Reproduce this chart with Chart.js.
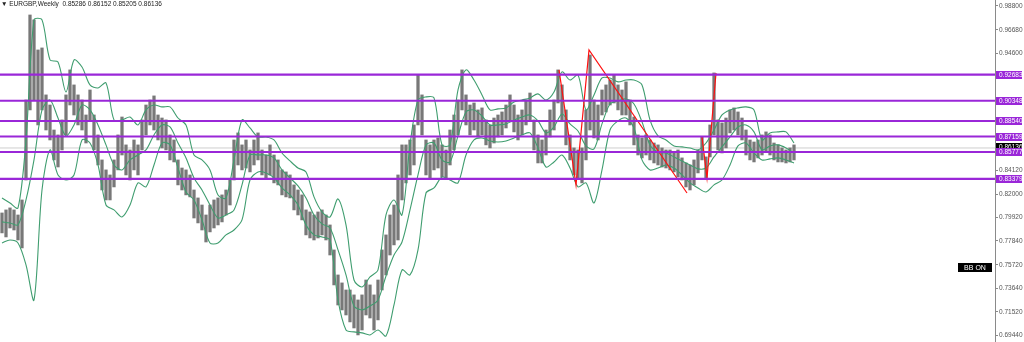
<!DOCTYPE html>
<html>
<head>
<meta charset="utf-8">
<title>EURGBP Weekly</title>
<script src="https://cdn.jsdelivr.net/npm/chart.js@4.4.0/dist/chart.umd.min.js"></script>
<style>
  html, body { margin: 0; padding: 0; background: #fff; }
</style>
</head>
<body>
<canvas id="chart" width="1024" height="342"></canvas>
<script>
// header values
var symbol = 'EURGBP';
var period = 'Weekly';
var lastOHLC = [0.85286, 0.86152, 0.85205, 0.86136];

// weekly candles (one entry per 2 weeks)
var candleHigh = [
  0.8034,0.8061,0.8079,0.8061,0.8016,0.8150,0.9042,0.9800,0.9756,0.9488,
  0.9506,0.9087,0.8997,0.8774,0.8730,0.8864,0.9087,0.9310,0.9176,0.9087,
  0.9042,0.8908,0.9131,0.8908,0.8730,0.8507,0.8418,0.8373,0.8507,0.8730,
  0.8890,0.8641,0.8596,0.8685,0.8641,0.8864,0.8997,0.9042,0.9078,0.8908,
  0.8881,0.8864,0.8730,0.8685,0.8507,0.8435,0.8418,0.8373,0.8239,0.8168,
  0.8105,0.8016,0.8105,0.8150,0.8168,0.8195,0.8239,0.8328,0.8685,0.8748,
  0.8641,0.8685,0.8596,0.8685,0.8748,0.8596,0.8551,0.8641,0.8551,0.8507,
  0.8418,0.8400,0.8373,0.8284,0.8239,0.8195,0.8061,0.8043,0.8016,0.8043,
  0.8061,0.8016,0.7927,0.7704,0.7481,0.7410,0.7347,0.7347,0.7303,0.7258,
  0.7303,0.7436,0.7392,0.7303,0.7436,0.7704,0.7838,0.8016,0.8105,0.8373,
  0.8641,0.8641,0.8685,0.8819,0.9265,0.9087,0.8685,0.8641,0.8685,0.8703,
  0.8641,0.8596,0.8774,0.8908,0.9042,0.9310,0.9087,0.8997,0.9015,0.8953,
  0.8971,0.8864,0.8819,0.8881,0.8908,0.8935,0.8997,0.9087,0.8997,0.8908,
  0.8953,0.9042,0.9104,0.8864,0.8730,0.8685,0.8774,0.8953,0.9042,0.9310,
  0.9176,0.8953,0.8730,0.8614,0.8596,0.8614,0.8953,0.9443,0.9042,0.8997,
  0.9131,0.9176,0.9220,0.9265,0.9176,0.9131,0.9203,0.9042,0.8890,0.8730,
  0.8703,0.8730,0.8685,0.8658,0.8641,0.8614,0.8596,0.8596,0.8578,0.8596,
  0.8525,0.8480,0.8462,0.8507,0.8596,0.8712,0.8534,0.8819,0.9283,0.8864,
  0.8837,0.8881,0.8953,0.8971,0.8935,0.8881,0.8774,0.8685,0.8667,0.8685,
  0.8730,0.8757,0.8730,0.8658,0.8641,0.8614,0.8596,0.8614,0.8641
];
var candleLow = [
  0.7856,0.7820,0.7900,0.7882,0.7793,0.7722,0.8328,0.8953,0.9042,0.8819,
  0.8953,0.8774,0.8685,0.8507,0.8444,0.8596,0.8730,0.8997,0.8908,0.8819,
  0.8774,0.8658,0.8864,0.8596,0.8462,0.8239,0.8150,0.8150,0.8266,0.8418,
  0.8551,0.8373,0.8328,0.8418,0.8373,0.8596,0.8730,0.8819,0.8774,0.8685,
  0.8614,0.8596,0.8507,0.8489,0.8284,0.8239,0.8195,0.8177,0.7989,0.7945,
  0.7882,0.7775,0.7865,0.7900,0.7927,0.7954,0.8016,0.8105,0.8328,0.8462,
  0.8418,0.8435,0.8400,0.8462,0.8507,0.8373,0.8346,0.8373,0.8302,0.8284,
  0.8195,0.8177,0.8168,0.8061,0.8016,0.7972,0.7838,0.7811,0.7793,0.7811,
  0.7838,0.7793,0.7659,0.7392,0.7213,0.7169,0.7124,0.7062,0.7008,0.6946,
  0.6990,0.7124,0.7097,0.6990,0.7080,0.7347,0.7481,0.7659,0.7749,0.7793,
  0.8150,0.8302,0.8373,0.8462,0.8819,0.8730,0.8373,0.8346,0.8418,0.8435,
  0.8355,0.8346,0.8462,0.8596,0.8730,0.8953,0.8819,0.8730,0.8774,0.8712,
  0.8730,0.8641,0.8614,0.8658,0.8712,0.8730,0.8792,0.8846,0.8757,0.8685,
  0.8730,0.8819,0.8864,0.8596,0.8480,0.8480,0.8551,0.8712,0.8774,0.9015,
  0.8864,0.8641,0.8507,0.8373,0.8346,0.8302,0.8507,0.8774,0.8703,0.8685,
  0.8908,0.8935,0.8997,0.9015,0.8953,0.8908,0.8908,0.8819,0.8641,0.8551,
  0.8525,0.8551,0.8507,0.8480,0.8462,0.8444,0.8435,0.8418,0.8400,0.8355,
  0.8328,0.8266,0.8239,0.8284,0.8391,0.8507,0.8346,0.8534,0.8730,0.8596,
  0.8569,0.8614,0.8748,0.8774,0.8730,0.8685,0.8551,0.8507,0.8489,0.8525,
  0.8551,0.8578,0.8551,0.8507,0.8489,0.8489,0.8480,0.8489,0.8507
];

// Bollinger bands, one value every 2 candles
var bbUpper = [
  0.8168,0.8123,0.8079,0.8685,0.9756,0.9756,0.9399,0.9381,0.9113,0.9399,
  0.9336,0.9176,0.9149,0.9194,0.8864,0.8864,0.8890,0.8819,0.8953,0.8997,
  0.8980,0.8980,0.8881,0.8819,0.8551,0.8507,0.8418,0.8195,0.8168,0.8507,
  0.8864,0.8792,0.8712,0.8712,0.8685,0.8569,0.8498,0.8435,0.8400,0.8177,
  0.8043,0.7998,0.8159,0.7927,0.7436,0.7374,0.7463,0.7526,0.8016,0.8150,
  0.8016,0.8641,0.9042,0.9069,0.9060,0.8641,0.8641,0.9131,0.9310,0.9220,
  0.9087,0.8953,0.8962,0.8971,0.9024,0.9042,0.9060,0.9096,0.9042,0.9113,
  0.9292,0.9220,0.9265,0.8953,0.9087,0.9238,0.9238,0.9203,0.9220,0.9220,
  0.9176,0.8864,0.8721,0.8685,0.8632,0.8623,0.8614,0.8596,0.8658,0.8774,
  0.8908,0.8953,0.8971,0.8980,0.8953,0.8685,0.8748,0.8757,0.8757,0.8658
];
var bbMiddle = [
  0.7954,0.7945,0.7927,0.8150,0.8507,0.8953,0.9042,0.8881,0.8721,0.8819,
  0.8997,0.8953,0.8819,0.8641,0.8462,0.8418,0.8507,0.8551,0.8596,0.8730,
  0.8819,0.8801,0.8658,0.8525,0.8346,0.8239,0.8105,0.7989,0.8016,0.8061,
  0.8284,0.8551,0.8551,0.8551,0.8525,0.8418,0.8346,0.8275,0.8168,0.8016,
  0.7936,0.7900,0.7704,0.7481,0.7204,0.7169,0.7204,0.7258,0.7472,0.7659,
  0.7775,0.8061,0.8373,0.8641,0.8658,0.8507,0.8489,0.8721,0.8935,0.8953,
  0.8899,0.8819,0.8819,0.8828,0.8864,0.8890,0.8908,0.8855,0.8748,0.8801,
  0.8917,0.8828,0.8765,0.8632,0.8605,0.8828,0.9006,0.9033,0.9051,0.9006,
  0.8846,0.8641,0.8578,0.8569,0.8534,0.8498,0.8462,0.8427,0.8435,0.8534,
  0.8623,0.8712,0.8801,0.8819,0.8757,0.8596,0.8632,0.8641,0.8614,0.8569
];
var bbLower = [
  0.7766,0.7793,0.7766,0.7570,0.7258,0.8239,0.8596,0.8373,0.8328,0.8373,
  0.8685,0.8658,0.8462,0.8105,0.8061,0.7998,0.8105,0.8302,0.8266,0.8462,
  0.8658,0.8641,0.8435,0.8221,0.8150,0.7972,0.7766,0.7766,0.7838,0.7882,
  0.7972,0.8328,0.8400,0.8391,0.8346,0.8257,0.8195,0.8105,0.7927,0.7838,
  0.7820,0.7793,0.7258,0.6990,0.6973,0.6964,0.6946,0.6990,0.6937,0.7213,
  0.7526,0.7481,0.7704,0.8212,0.8257,0.8355,0.8328,0.8302,0.8551,0.8685,
  0.8703,0.8676,0.8667,0.8676,0.8703,0.8730,0.8748,0.8614,0.8444,0.8489,
  0.8551,0.8435,0.8266,0.8302,0.8123,0.8418,0.8774,0.8855,0.8881,0.8792,
  0.8507,0.8418,0.8435,0.8462,0.8435,0.8373,0.8302,0.8257,0.8221,0.8284,
  0.8328,0.8462,0.8632,0.8658,0.8569,0.8507,0.8516,0.8525,0.8507,0.8480
];

// drawn objects: horizontal levels, current price, zigzag trend lines [candle, price]
var levels = [0.92683, 0.90348, 0.88540, 0.87159, 0.85777, 0.83379];
var currentPrice = 0.86136;
var zigzagA = [[139.25, 0.9310], [143.5, 0.8284], [146.75, 0.9488], [171.25, 0.8212]];
var zigzagB = [[175, 0.8712], [176.25, 0.8346], [178.5, 0.9283]];

// price axis labels
var tickValues = [0.98800, 0.96680, 0.94600, 0.84120, 0.82000, 0.79920, 0.77840, 0.75720, 0.73640, 0.71520, 0.69440];

var X_MIN = -0.5, X_MAX = 248.25;
var PURPLE = '#9a27d8';
var BAND = '#3f9d6f';
var FONT = '"Liberation Sans", Arial, sans-serif';

function pts(arr, step) {
  return arr.map(function (v, i) { return { x: i * step, y: v }; });
}

var datasets = [];

levels.forEach(function (lvl) {
  datasets.push({
    type: 'line',
    data: [{ x: X_MIN, y: lvl }, { x: X_MAX, y: lvl }],
    borderColor: PURPLE,
    borderWidth: 2.2,
    pointRadius: 0,
    order: 0
  });
});

[zigzagA, zigzagB].forEach(function (z) {
  datasets.push({
    type: 'line',
    data: z.map(function (p) { return { x: p[0], y: p[1] }; }),
    borderColor: '#ff1010',
    borderWidth: 1.2,
    pointRadius: 0,
    order: 1
  });
});

[bbUpper, bbMiddle, bbLower].forEach(function (band) {
  datasets.push({
    type: 'line',
    data: pts(band, 2),
    borderColor: BAND,
    borderWidth: 1.1,
    pointRadius: 0,
    tension: 0.3,
    order: 2
  });
});

datasets.push({
  type: 'bar',
  data: candleHigh.map(function (h, i) { return { x: i, y: [candleLow[i], h] }; }),
  backgroundColor: '#787878',
  barThickness: 2.6,
  order: 3
});

datasets.push({
  type: 'line',
  data: [{ x: X_MIN, y: currentPrice }, { x: X_MAX, y: currentPrice }],
  borderColor: '#cfcfcf',
  borderWidth: 1,
  pointRadius: 0,
  order: 4
});

var overlay = {
  id: 'overlay',
  afterDraw: function (chart) {
    var ctx = chart.ctx;
    var ys = chart.scales.y;
    var left = chart.chartArea.right + 1;

    function tag(value, color, shift) {
      var py = Math.round(ys.getPixelForValue(value)) + (shift || 0);
      ctx.fillStyle = color;
      ctx.fillRect(left, py - 4, 1024 - left - 2, 8);
      ctx.fillStyle = '#fff';
      ctx.fillText(value.toFixed(5), left + 3, py + 0.5);
    }

    ctx.save();
    ctx.font = '6.5px ' + FONT;
    ctx.textBaseline = 'middle';
    ctx.textAlign = 'left';
    tag(currentPrice, '#000', -1);
    levels.forEach(function (lvl) { tag(lvl, PURPLE); });

    // header
    ctx.fillStyle = '#222';
    ctx.font = '6.5px ' + FONT;
    ctx.fillText('\u25BC ' + symbol + ',' + period + '  ' + lastOHLC.map(function (v) { return v.toFixed(5); }).join(' '), 1, 4);

    // indicator badge
    ctx.fillStyle = '#000';
    ctx.fillRect(958, 263, 34, 9);
    ctx.fillStyle = '#fff';
    ctx.font = '7px ' + FONT;
    ctx.textAlign = 'center';
    ctx.fillText('BB ON', 975, 268);
    ctx.restore();
  }
};

new Chart(document.getElementById('chart'), {
  data: { datasets: datasets },
  options: {
    responsive: false,
    animation: false,
    devicePixelRatio: 1,
    layout: { padding: 0 },
    plugins: { legend: { display: false }, tooltip: { enabled: false } },
    scales: {
      x: {
        type: 'linear',
        display: false,
        min: X_MIN,
        max: X_MAX,
        offset: false
      },
      y: {
        type: 'linear',
        position: 'right',
        min: 0.68829,
        max: 0.99335,
        afterBuildTicks: function (scale) {
          scale.ticks = tickValues.map(function (v) { return { value: v }; });
        },
        afterFit: function (scale) {
          scale.width = 29;
          scale.paddingTop = 0;
          scale.paddingBottom = 0;
        },
        border: { display: true, color: '#8a8a8a', width: 1 },
        grid: { drawOnChartArea: false, drawTicks: true, tickLength: 3, color: '#8a8a8a' },
        ticks: {
          padding: 1,
          color: '#555',
          font: { family: FONT, size: 6.5 },
          callback: function (v) { return Number(v).toFixed(5); }
        }
      }
    }
  },
  plugins: [overlay]
});
</script>
</body>
</html>
